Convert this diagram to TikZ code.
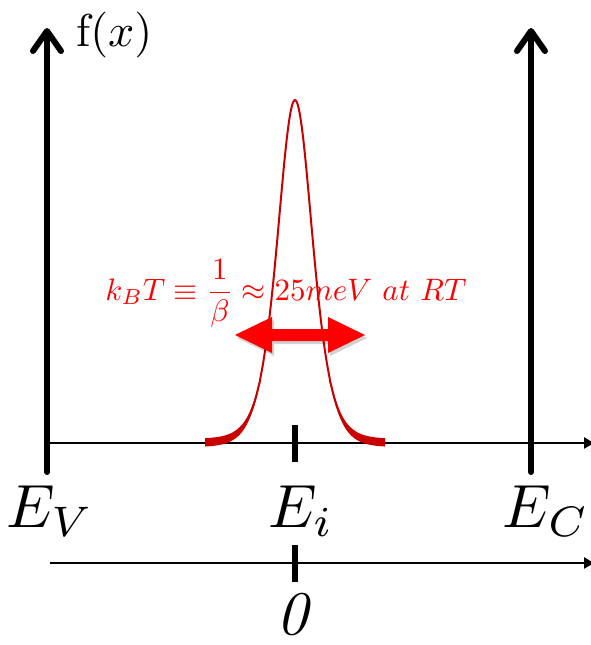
\documentclass[tikz,border=0pt]{standalone}
\usepackage{graphicx}
\usetikzlibrary{arrows.meta}
\definecolor{curvered}{RGB}{200,0,0}
\definecolor{brightred}{RGB}{255,0,0}
\begin{document}
\begin{tikzpicture}[x=1pt,y=-1pt,
  vaxis/.style={line width=6pt,line cap=round,-{Straight Barb[length=20pt,width=28pt,round]}},
  haxis/.style={line width=2.6pt,-{Triangle[length=10pt,width=11pt]}},
  tickmark/.style={line width=6pt},
  biglabel/.style={anchor=base,inner sep=0pt},
  declare function={sr(\t)=4/(exp((\t-295)/23.5)+exp(-(\t-295)/23.5))^2;
                    gy(\t)=443-343*sr(\t);
                    ga(\t)=4.2*(1-sr(\t))^3;}]
\useasboundingbox (0,0) rectangle (590,645);
% coordinates
\coordinate (evb) at (47,472);
\coordinate (evt) at (47,28);
\coordinate (ecb) at (531,472);
\coordinate (ect) at (531,28);
\coordinate (axl) at (47,443);
\coordinate (axr) at (594,443);
\coordinate (bxl) at (50,563);
\coordinate (bxr) at (594,563);
\coordinate (t1a) at (295,425);
\coordinate (t1b) at (295,462);
\coordinate (t2a) at (295,545);
\coordinate (t2b) at (295,582);
% axes
\draw[haxis] (axl) -- (axr);
\draw[haxis] (bxl) -- (bxr);
\draw[vaxis] (evb) -- (evt);
\draw[vaxis] (ecb) -- (ect);
\draw[tickmark] (t1a) -- (t1b);
\draw[tickmark] (t2a) -- (t2b);
% distribution curve
\fill[curvered] plot[domain=205:385,samples=241] (\x,{gy(\x)-ga(\x)})
  -- plot[domain=385:205,samples=241] (\x,{gy(\x)+ga(\x)}) -- cycle;
\draw[curvered,line width=2pt] plot[domain=205:385,samples=241] (\x,{gy(\x)});
% double arrow (with faint shadow)
\fill[black,opacity=0.18] (237,338) -- (274,320) -- (274,332) -- (330,332) -- (330,320)
  -- (367,338) -- (330,356) -- (330,344) -- (274,344) -- (274,356) -- cycle;
\fill[brightred] (235,335) -- (272,317) -- (272,329) -- (328,329) -- (328,317)
  -- (365,335) -- (328,353) -- (328,341) -- (272,341) -- (272,353) -- cycle;
% labels
\node[anchor=base west,inner sep=0pt] (fx) at (76,46) {\scalebox{4.6}{f$(x)$}};
\node[anchor=base,inner sep=0pt,text=brightred] (kt) at (286,300)
  {\scalebox{3.1}{$k_BT\equiv{\displaystyle\frac{1}{\beta}}\approx 25meV\ at\ RT$}};
\node[biglabel] (lev) at (50,527) {\scalebox{6.1}{$E_V$}};
\node[biglabel] (lei) at (301,527) {\scalebox{6.1}{$E_i$}};
\node[biglabel] (lec) at (546,527) {\scalebox{6.1}{$E_C$}};
\node[biglabel] (lzero) at (297,634) {\scalebox{6.2}{$\mathit{0}$}};
\end{tikzpicture}
\end{document}
